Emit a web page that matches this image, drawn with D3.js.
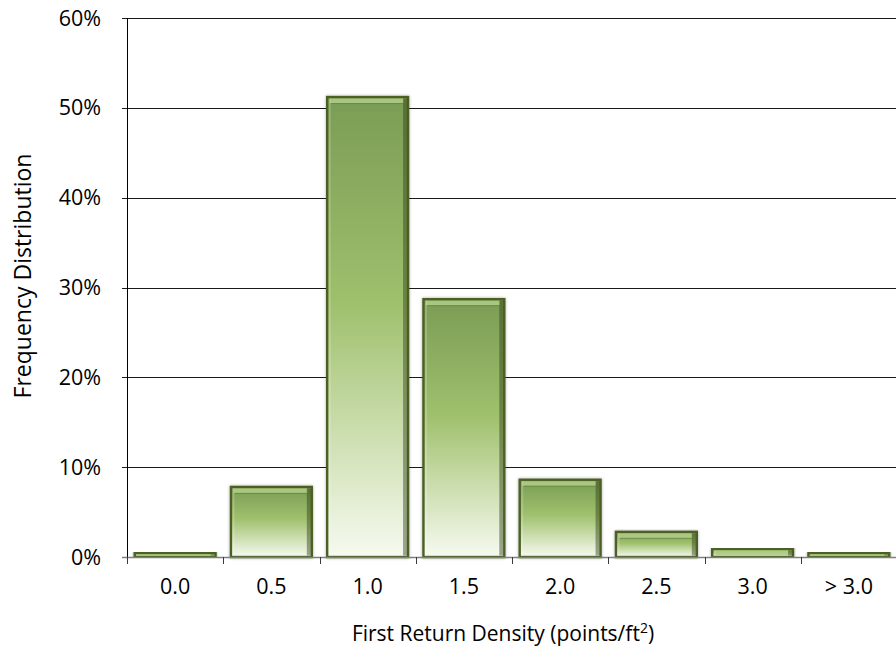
<!DOCTYPE html>
<html>
<head>
<meta charset="utf-8">
<script src="https://cdn.jsdelivr.net/npm/d3@7/dist/d3.min.js"></script>
<style>
  html, body { margin: 0; padding: 0; background: #fff; }
  svg { display: block; font-family: "Open Sans", "Noto Sans", sans-serif; }
</style>
</head>
<body>
<svg id="chart" width="896" height="653"></svg>
<script>
// Share of first-return density classes (points/ft²)
const categories = ["0.0", "0.5", "1.0", "1.5", "2.0", "2.5", "3.0", "> 3.0"];
const shares = [0.45, 7.8, 51.2, 28.7, 8.6, 2.8, 0.9, 0.45];
const yTicks = [0, 10, 20, 30, 40, 50, 60];

const W = 896, H = 653;
const plot = { left: 127, right: 897, top: 18, bottom: 557 };
const labelSize = 21.5;

const svg = d3.select("#chart");

const x = d3.scaleBand()
  .domain(categories)
  .range([plot.left, plot.right])
  .paddingInner(0.16)
  .paddingOuter(0.08);

const y = d3.scaleLinear()
  .domain([0, 60])
  .range([plot.bottom, plot.top]);

// Gradient and shadow definitions
const defs = svg.append("defs");
const grad = defs.append("linearGradient")
  .attr("id", "barFill").attr("x1", 0).attr("y1", 0).attr("x2", 0).attr("y2", 1);
grad.append("stop").attr("offset", "0%").attr("stop-color", "#7a9c55");
grad.append("stop").attr("offset", "45%").attr("stop-color", "#9fc06c");
grad.append("stop").attr("offset", "75%").attr("stop-color", "#cfe0b4");
grad.append("stop").attr("offset", "100%").attr("stop-color", "#f6faf0");

const shadow = defs.append("filter").attr("id", "soft")
  .attr("x", "-10%").attr("y", "-10%").attr("width", "120%").attr("height", "120%");
shadow.append("feDropShadow")
  .attr("dx", 0).attr("dy", 0).attr("stdDeviation", 1.6)
  .attr("flood-color", "#000").attr("flood-opacity", 0.35);

// Horizontal gridlines with short tick marks left of the axis
const grid = svg.append("g");
grid.selectAll("line")
  .data(yTicks.filter(d => d > 0))
  .join("line")
  .attr("x1", plot.left - 5)
  .attr("x2", plot.right)
  .attr("y1", d => Math.round(y(d)) + 0.5)
  .attr("y2", d => Math.round(y(d)) + 0.5)
  .attr("stroke", "#1a1a1a")
  .attr("stroke-width", 1);

// Y tick labels
svg.append("g").selectAll("text")
  .data(yTicks)
  .join("text")
  .attr("x", 101)
  .attr("y", d => y(d))
  .attr("dy", "0.35em")
  .attr("text-anchor", "end")
  .attr("font-size", labelSize)
  .attr("fill", "#000")
  .text(d => d + "%");

// Bars
const bars = svg.append("g").selectAll("g.bar")
  .data(categories.map((c, i) => ({ cat: c, v: shares[i] })))
  .join("g")
  .attr("class", "bar");

bars.append("rect")
  .attr("x", d => x(d.cat))
  .attr("y", d => y(d.v))
  .attr("width", x.bandwidth())
  .attr("height", d => y(0) - y(d.v))
  .attr("fill", "url(#barFill)")
  .attr("stroke", "#4b6124")
  .attr("stroke-width", 2.4)
  .attr("filter", "url(#soft)");

// Bevel: light strip along the top edge
bars.append("rect")
  .attr("x", d => x(d.cat) + 2.5)
  .attr("y", d => y(d.v) + 1.5)
  .attr("width", x.bandwidth() - 7)
  .attr("height", d => Math.max(0, Math.min(4.5, y(0) - y(d.v) - 3)))
  .attr("fill", "#b2cd8a")
  .attr("opacity", 0.85);

// Bevel: darker line under the top strip
bars.filter(d => y(0) - y(d.v) > 10)
  .append("line")
  .attr("x1", d => x(d.cat) + 4)
  .attr("x2", d => x(d.cat) + x.bandwidth() - 5)
  .attr("y1", d => y(d.v) + 6.5)
  .attr("y2", d => y(d.v) + 6.5)
  .attr("stroke", "#5f7c35")
  .attr("stroke-opacity", 0.6)
  .attr("stroke-width", 1);

// Bevel: shaded right edge
bars.append("rect")
  .attr("x", d => x(d.cat) + x.bandwidth() - 5)
  .attr("y", d => y(d.v) + 1.5)
  .attr("width", 4)
  .attr("height", d => Math.max(0, y(0) - y(d.v) - 3))
  .attr("fill", "#2c3b12")
  .attr("opacity", 0.45);

// Bevel: faint highlight on the left edge
bars.append("rect")
  .attr("x", d => x(d.cat) + 1.5)
  .attr("y", d => y(d.v) + 1.5)
  .attr("width", 2)
  .attr("height", d => Math.max(0, y(0) - y(d.v) - 3))
  .attr("fill", "#ffffff")
  .attr("opacity", 0.2);

// Y axis line
svg.append("line")
  .attr("x1", plot.left + 0.5).attr("x2", plot.left + 0.5)
  .attr("y1", plot.top).attr("y2", plot.bottom)
  .attr("stroke", "#000").attr("stroke-width", 1);

// X axis line and category boundary ticks
svg.append("line")
  .attr("x1", plot.left - 5).attr("x2", plot.right)
  .attr("y1", plot.bottom + 0.5).attr("y2", plot.bottom + 0.5)
  .attr("stroke", "#7f7f7f").attr("stroke-width", 1.5);

const step = x.step();
const boundaries = d3.range(categories.length).map(i => plot.left + i * step);
svg.append("g").selectAll("line")
  .data(boundaries)
  .join("line")
  .attr("x1", d => Math.round(d) + 0.5)
  .attr("x2", d => Math.round(d) + 0.5)
  .attr("y1", plot.bottom)
  .attr("y2", plot.bottom + 7)
  .attr("stroke", "#3a3a3a")
  .attr("stroke-width", 1);

// X category labels
svg.append("g").selectAll("text")
  .data(categories)
  .join("text")
  .attr("x", d => x(d) + x.bandwidth() / 2)
  .attr("y", 586)
  .attr("dy", "0.35em")
  .attr("text-anchor", "middle")
  .attr("font-size", labelSize)
  .attr("fill", "#000")
  .text(d => d);

// X axis title with superscript
const xt = svg.append("text")
  .attr("x", 503)
  .attr("y", 641)
  .attr("text-anchor", "middle")
  .attr("font-size", 21)
  .attr("fill", "#000");
xt.append("tspan").text("First Return Density (points/ft");
xt.append("tspan").attr("dy", -8).attr("font-size", 14).text("2");
xt.append("tspan").attr("dy", 8).text(")");

// Y axis title
svg.append("text")
  .attr("transform", "translate(31,276) rotate(-90)")
  .attr("text-anchor", "middle")
  .attr("font-size", 23)
  .attr("fill", "#000")
  .text("Frequency Distribution");
</script>
</body>
</html>
